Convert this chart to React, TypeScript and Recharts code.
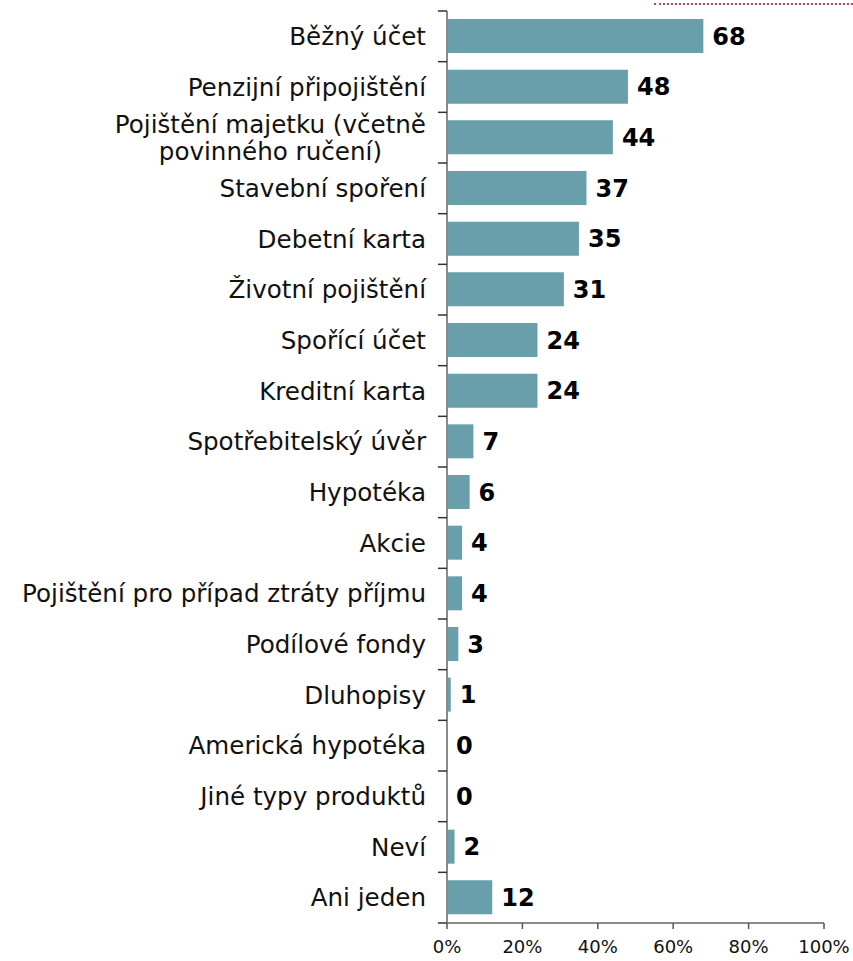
import { BarChart, Bar, XAxis, YAxis, LabelList } from 'recharts';

const categories = [
  'Běžný účet',
  'Penzijní připojištění',
  'Pojištění majetku (včetně|povinného ručení)',
  'Stavební spoření',
  'Debetní karta',
  'Životní pojištění',
  'Spořící účet',
  'Kreditní karta',
  'Spotřebitelský úvěr',
  'Hypotéka',
  'Akcie',
  'Pojištění pro případ ztráty příjmu',
  'Podílové fondy',
  'Dluhopisy',
  'Americká hypotéka',
  'Jiné typy produktů',
  'Neví',
  'Ani jeden',
];

const values = [68, 48, 44, 37, 35, 31, 24, 24, 7, 6, 4, 4, 3, 1, 0, 0, 2, 12];

const xTicks = [0, 20, 40, 60, 80, 100];

const data = categories.map((name, i) => ({ name, value: values[i] }));

const FONT = '"DejaVu Sans", Verdana, sans-serif';
const W = 853;
const H = 961;
const TOP = 11;
const AXIS_H = 38;
const Y_W = 447;
const TICK_GAP = 21;
const CAT_SIZE = 24.6;
const BAND = (H - TOP - AXIS_H) / categories.length;

let ctx: CanvasRenderingContext2D | null = null;
const measure = (s: string) => {
  if (!ctx) ctx = document.createElement('canvas').getContext('2d');
  if (!ctx) return s.length * 12;
  ctx.font = `${CAT_SIZE}px ${FONT}`;
  return ctx.measureText(s).width;
};

const CategoryTick = (props: any) => {
  const { x, y, payload, index } = props;
  const lines: string[] = String(payload.value).split('|');
  const ax = x + TICK_GAP;
  let text;
  if (lines.length === 1) {
    text = (
      <text x={x} y={y} dy="0.35em" textAnchor="end" fontSize={CAT_SIZE} fontFamily={FONT} fill="#111">
        {lines[0]}
      </text>
    );
  } else {
    const w = Math.max(...lines.map(measure));
    const cx = x - w / 2;
    const lh = 27;
    const start = y - ((lines.length - 1) * lh) / 2;
    text = (
      <text textAnchor="middle" fontSize={CAT_SIZE} fontFamily={FONT} fill="#111">
        {lines.map((l, i) => (
          <tspan key={i} x={cx} y={start + i * lh} dy="0.35em">
            {l}
          </tspan>
        ))}
      </text>
    );
  }
  return (
    <g>
      {text}
      {index === 0 && <line x1={ax - 9} x2={ax} y1={y - BAND / 2} y2={y - BAND / 2} stroke="#333" strokeWidth={1.5} />}
      <line x1={ax - 9} x2={ax} y1={y + BAND / 2} y2={y + BAND / 2} stroke="#333" strokeWidth={1.5} />
    </g>
  );
};

export default function App() {
  return (
    <div style={{ position: 'absolute', left: 0, top: 0, width: W, height: H, background: '#fff' }}>
      <div
        style={{
          position: 'absolute',
          left: 654,
          top: 3,
          width: 199,
          borderTop: '2px dotted #b4457a',
        }}
      />
      <BarChart
        width={W}
        height={H}
        data={data}
        layout="vertical"
        margin={{ top: TOP, right: 29, bottom: 0, left: 0 }}
        barSize={34}
      >
        <XAxis
          type="number"
          domain={[0, 100]}
          ticks={xTicks}
          interval={0}
          tickFormatter={(v) => `${v}%`}
          height={AXIS_H}
          axisLine={{ stroke: '#8a8a8a', strokeWidth: 2 }}
          tickLine={{ stroke: '#555', strokeWidth: 1.5 }}
          tickSize={6}
          tickMargin={11}
          tick={{ fontSize: 18, fontFamily: FONT, fill: '#111' }}
        />
        <YAxis
          type="category"
          dataKey="name"
          width={Y_W}
          interval={0}
          axisLine={{ stroke: '#8a8a8a', strokeWidth: 2 }}
          tickLine={false}
          tickSize={0}
          tickMargin={TICK_GAP}
          tick={<CategoryTick />}
        />
        <Bar dataKey="value" fill="#689fab" minPointSize={0.01} isAnimationActive={false}>
          <LabelList
            dataKey="value"
            position="right"
            offset={9}
            style={{ fontSize: 24, fontWeight: 'bold', fontFamily: FONT, fill: '#000' }}
          />
        </Bar>
      </BarChart>
    </div>
  );
}
